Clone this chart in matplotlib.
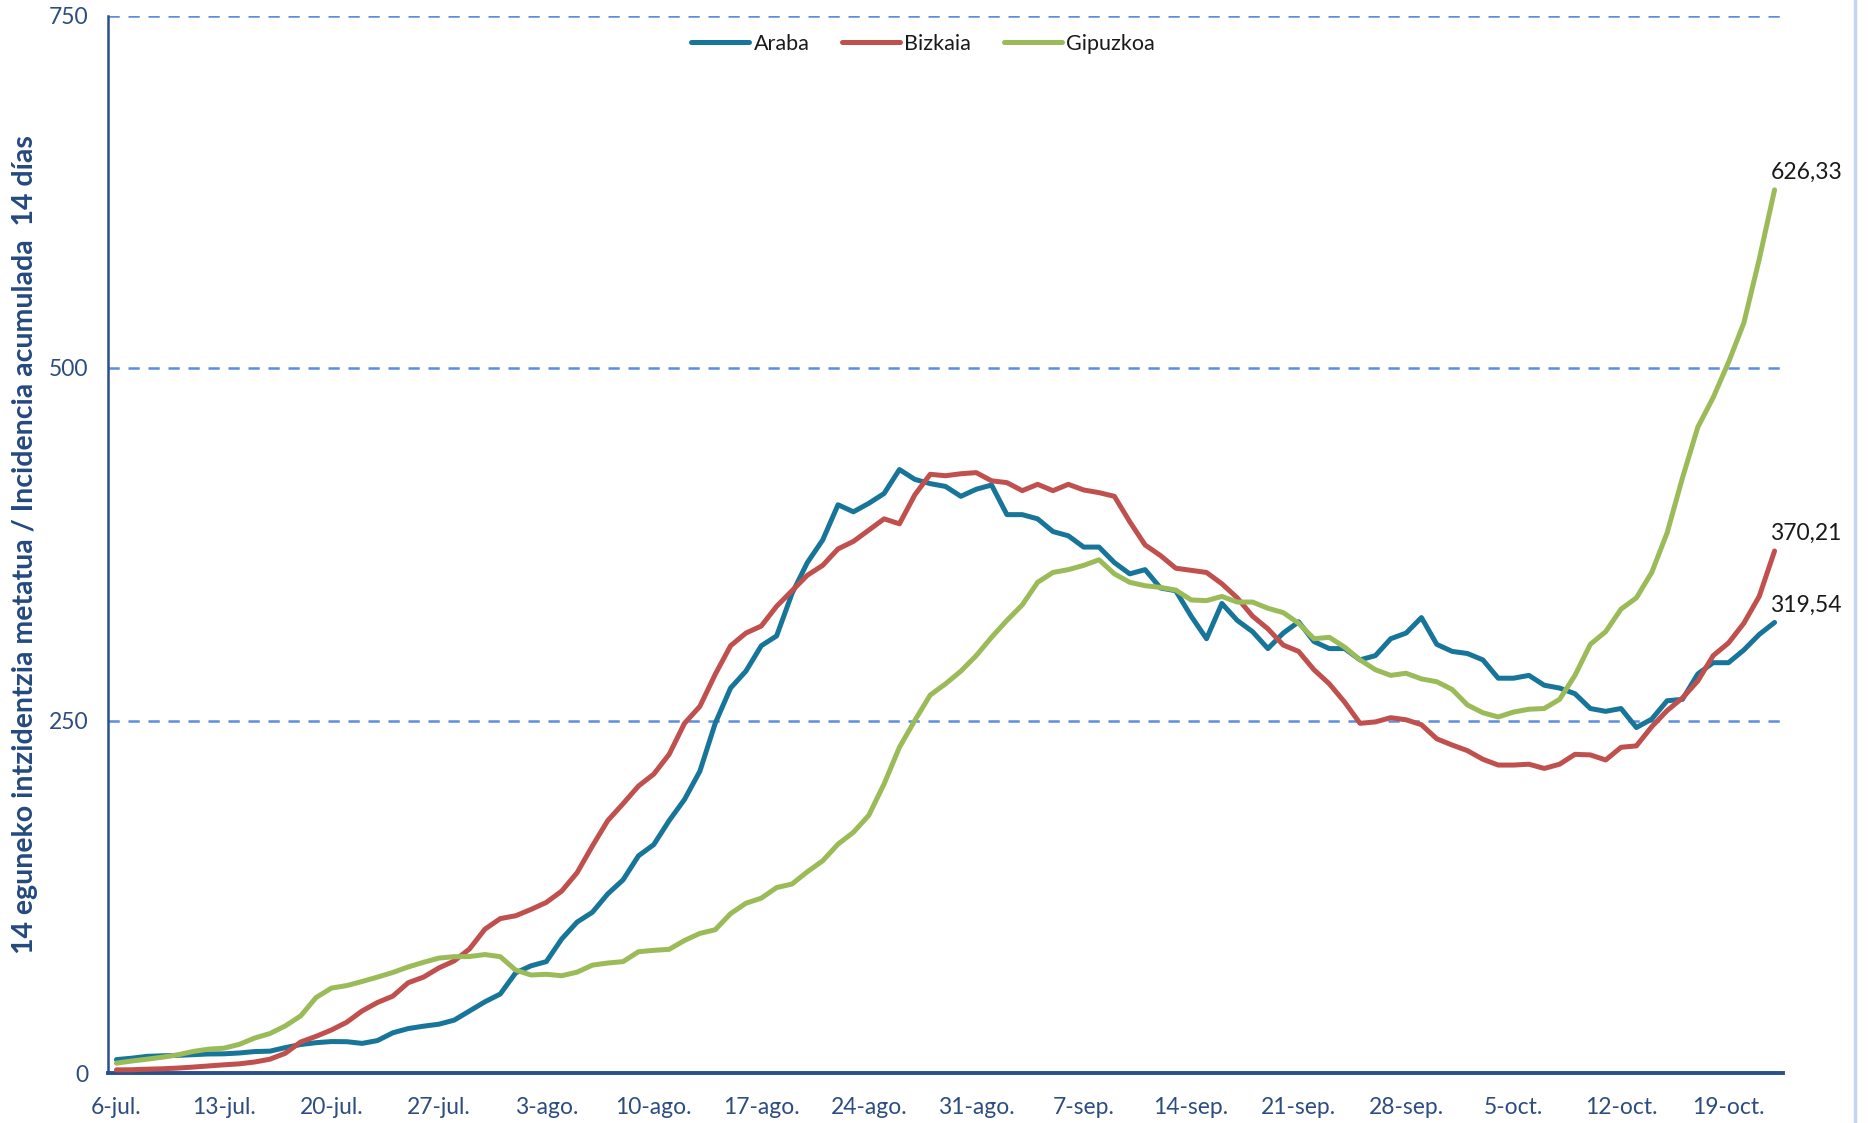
import matplotlib
matplotlib.use("Agg")
import matplotlib.pyplot as plt
from matplotlib.lines import Line2D

# ---------------- data ----------------
tick_labels = ["6-jul.", "13-jul.", "20-jul.", "27-jul.", "3-ago.", "10-ago.", "17-ago.",
               "24-ago.", "31-ago.", "7-sep.", "14-sep.", "21-sep.", "28-sep.", "5-oct.",
               "12-oct.", "19-oct."]

araba = [9.5, 10.5, 11.8, 12.2, 12.5, 13, 13.5, 13.6, 14.2, 15.2,
         15.5, 18, 20.2, 21.5, 22.3, 22.2, 21, 23, 28.5, 31.5,
         33.2, 34.6, 37.5, 44, 50.5, 56, 71, 76, 79, 95,
         107, 114, 127, 137, 154, 162, 179, 194, 214, 248,
         273, 285, 303, 310, 340, 362, 378, 403, 398, 404,
         411, 428, 421, 418, 416, 409, 414, 417, 396, 396,
         393, 384, 381, 373, 373, 362, 354, 357, 344, 342,
         324, 308, 333, 321, 313, 301, 312, 320, 306, 301,
         301, 293, 296, 308, 312, 323, 304, 299, 297.5, 293,
         280, 280, 282, 275, 273, 269, 258.5, 256.5, 258.5, 245,
         251, 264, 265, 283, 291, 291, 300, 311, 319.54]

bizkaia = [2.2, 2.3, 2.7, 3, 3.5, 4.2, 5, 5.8, 6.5, 7.8,
           9.8, 14, 22, 26, 30.5, 36, 44, 50, 54.5, 64,
           68, 74.5, 79.5, 88, 102, 109.5, 111.5, 116, 121, 129,
           142, 161, 179, 191, 203.5, 212, 226, 248, 260, 282.7,
           303, 312, 317, 331, 342, 353, 360, 371.7, 377, 385,
           393, 389.5, 410, 424.6, 423.6, 425, 425.8, 420, 418.7, 413,
           417.5, 413, 417.5, 413.5, 411.6, 409, 391, 374.5, 367, 358,
           356.5, 355, 347, 337, 324, 315, 303.5, 299, 286, 276,
           263, 248, 249, 252, 250.5, 247, 237, 232.6, 228.6, 222.5,
           218.4, 218.4, 219, 216, 219, 226, 225.6, 222, 231, 232,
           245.6, 257, 266, 278, 296, 305, 319, 338, 370.21]

gipuzkoa = [7, 8.5, 9.8, 11.2, 12.9, 15.3, 16.9, 17.6, 20.3, 24.8,
            28, 33.4, 40.5, 53.5, 60.2, 62, 64.9, 68, 71.3, 75.2,
            78.5, 81.5, 82.5, 82.6, 84, 82.5, 73, 69.5, 70, 69,
            71.5, 76.5, 78, 79, 86, 87, 87.7, 94, 99, 101.6,
            113, 120.4, 124, 131.5, 134, 142.7, 150.5, 162.3, 170.7, 182.7,
            205, 231, 250, 268, 276, 285, 296, 309, 321, 332,
            348, 355, 357, 360, 364, 354, 348, 345.6, 344.4, 342.5,
            335.5, 335, 338, 334, 334, 329.6, 326.5, 319, 308, 309,
            302, 293, 286, 282, 283.5, 279.5, 277.5, 272, 261, 255.5,
            252.5, 256, 258, 258.5, 265, 282, 304, 313, 329, 337,
            355, 383, 422, 458, 479, 504, 532, 577, 626.33]

series_names = ["Araba", "Bizkaia", "Gipuzkoa"]
series_colors = ["#17759a", "#c0504d", "#9bbb59"]
end_labels = ["319,54", "370,21", "626,33"]

# ---------------- figure ----------------
W, H = 1868, 1123
fig = plt.figure(figsize=(W / 100, H / 100), dpi=100)
ax = fig.add_axes([108 / W, 1 - 1073 / H, (1783 - 108) / W, (1073 - 15.5) / H])

font_main = ["Liberation Sans Narrow", "Lato", "DejaVu Sans"]
axis_blue = "#2a4f8a"
tick_col = "#2d4d80"

days = list(range(len(araba)))
series = [araba, bizkaia, gipuzkoa]

for vals, name, col in zip(series, series_names, series_colors):
    ax.plot(days, vals, color=col, lw=3.6, solid_capstyle="round",
            solid_joinstyle="round", label=name, zorder=3)

# end labels
for vals, lab in zip(series, end_labels):
    ax.annotate(lab, xy=(days[-1], vals[-1]), xytext=(-3, 5),
                textcoords="offset points", ha="left", va="bottom",
                fontsize=16.5, family=font_main, color="#1a1a1a", zorder=4)

ax.set_xlim(-0.55, 108.55)
ax.set_ylim(0, 750)

# gridlines
for yv in [250, 500, 750]:
    ax.axhline(yv, color="#5b8ede", lw=1.8, ls=(0, (4.5, 3.5)), zorder=1)

ax.set_yticks([0, 250, 500, 750])
ax.set_yticklabels(["0", "250", "500", "750"])
ax.set_xticks([7 * i for i in range(len(tick_labels))])
ax.set_xticklabels(tick_labels)

ax.tick_params(axis="both", length=0, colors=tick_col, labelsize=16.5)
ax.tick_params(axis="y", pad=14)
ax.tick_params(axis="x", pad=17)
for t in ax.get_xticklabels() + ax.get_yticklabels():
    t.set_family(font_main)
    t.set_color(tick_col)

for s in ["top", "right"]:
    ax.spines[s].set_visible(False)
ax.spines["left"].set_color(axis_blue)
ax.spines["left"].set_linewidth(1.8)
ax.spines["bottom"].set_color(axis_blue)
ax.spines["bottom"].set_linewidth(2.8)

ax.set_ylabel("14 eguneko intzidentzia metatua / Incidencia acumulada  14 días",
              fontsize=20.5, fontweight="bold", color="#24497f",
              family=["Lato", "DejaVu Sans"])
ax.yaxis.set_label_coords(-0.042, 0.5)

leg = ax.legend(loc="center", bbox_to_anchor=((923 - 108) / (1783 - 108), 1 - (44 - 15.5) / (1073 - 15.5)),
                ncol=3, frameon=False, handlelength=2.7, handletextpad=0.2,
                columnspacing=1.5, prop={"family": font_main, "size": 15.5})
for t in leg.get_texts():
    t.set_color("#1a1a1a")

# right frame line of the chart area
fig.add_artist(Line2D([1855 / W, 1855 / W], [0, 1], color="#c6d6ee", lw=2.5,
                      transform=fig.transFigure))

fig.savefig("out.png", dpi=100, facecolor="white")
